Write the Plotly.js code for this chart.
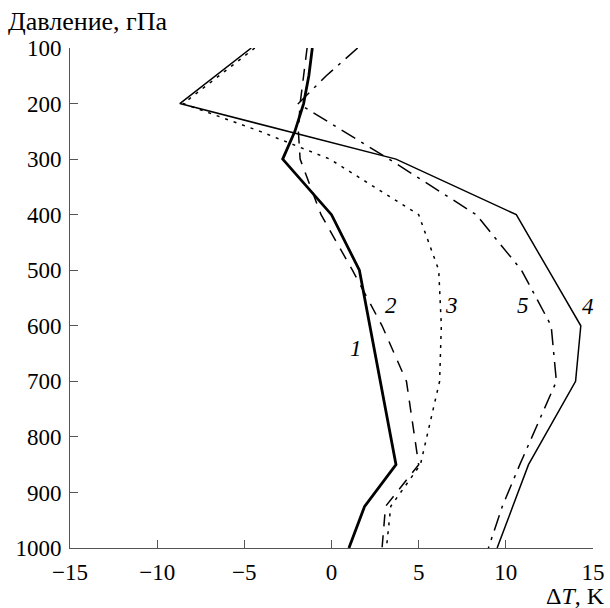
<!DOCTYPE html>
<html>
<head>
<meta charset="utf-8">
<script src="https://cdn.plot.ly/plotly-3.0.1.min.js"></script>
<style>html,body{margin:0;padding:0;background:#fff;}#chart{width:610px;height:608px;}</style>
</head>
<body>
<div id="chart"></div>
<script>
// Pressure levels (hPa) and temperature differences ΔT (K) for each curve
const p1 = [100, 150, 200, 250, 300, 400, 500, 700, 850, 925, 1000];
const t1 = [-1.1, -1.3, -1.6, -2.1, -2.8, 0.0, 1.6, 2.8, 3.7, 1.9, 1.0];

const p2 = [100, 200, 250, 300, 400, 500, 600, 700, 850, 925, 1000];
const t2 = [-1.4, -1.8, -1.9, -1.8, -0.6, 1.2, 2.9, 4.3, 5.0, 3.1, 2.9];

const p3 = [100, 200, 250, 300, 400, 500, 600, 700, 850, 925, 1000];
const t3 = [-4.4, -8.5, -4.1, -0.1, 5.0, 6.15, 6.3, 6.2, 5.1, 3.4, 3.15];

const p4 = [100, 200, 300, 400, 500, 600, 700, 850, 925, 1000];
const t4 = [-4.6, -8.7, 3.7, 10.6, 12.45, 14.3, 14.0, 11.3, 10.4, 9.5];

const p5 = [100, 150, 200, 300, 400, 500, 600, 700, 850, 925, 1000];
const t5 = [1.5, -0.3, -1.9, 3.3, 8.3, 10.9, 12.6, 12.9, 10.8, 9.8, 9.0];

const curveLabels = ["1", "2", "3", "4", "5"];
const labelX = [1.4, 3.4, 6.9, 14.7, 11.0];
const labelY = [640, 563, 563, 566, 563];

const xTicks = [-15, -10, -5, 0, 5, 10, 15];
const yTicks = [100, 200, 300, 400, 500, 600, 700, 800, 900, 1000];

const serif = "'Liberation Serif', 'Times New Roman', serif";

const traces = [
  {x: t1, y: p1, mode: "lines", line: {color: "#000", width: 2.8}},
  {x: t2, y: p2, mode: "lines", line: {color: "#000", width: 1.5, dash: "12px,9px"}},
  {x: t3, y: p3, mode: "lines", line: {color: "#000", width: 1.5, dash: "3px,6px"}},
  {x: t4, y: p4, mode: "lines", line: {color: "#000", width: 1.5}},
  {x: t5, y: p5, mode: "lines", line: {color: "#000", width: 1.5, dash: "16px,7px,3px,7px"}}
];

const annotations = curveLabels.map((s, i) => ({
  x: labelX[i], y: labelY[i], xref: "x", yref: "y", text: s, showarrow: false,
  font: {family: serif, size: 23, color: "#000", style: "italic"}
}));
annotations.push({
  x: 0, y: 1, xref: "paper", yref: "paper", xanchor: "left", yanchor: "bottom",
  text: "Давление, гПа", showarrow: false, xshift: -64, yshift: 10,
  font: {family: serif, size: 26, color: "#000"}
});
annotations.push({
  x: 1, y: 0, xref: "paper", yref: "paper", xanchor: "right", yanchor: "top",
  text: "Δ<i>T</i>, K", showarrow: false, xshift: 14, yshift: -33,
  font: {family: serif, size: 24, color: "#000"}
});

const layout = {
  width: 610, height: 608,
  margin: {l: 70, r: 17, t: 48, b: 60},
  paper_bgcolor: "#fff", plot_bgcolor: "#fff",
  showlegend: false,
  font: {family: serif, size: 22, color: "#000"},
  xaxis: {
    range: [-15, 15], tickvals: xTicks, ticks: "inside", ticklen: 8, tickcolor: "#555",
    showline: true, linecolor: "#555", linewidth: 1, showgrid: false, zeroline: false,
    ticklabelstandoff: 3,
    tickfont: {family: serif, size: 23, color: "#000"}
  },
  yaxis: {
    range: [1000, 100], tickvals: yTicks, ticks: "inside", ticklen: 8, tickcolor: "#555",
    showline: true, linecolor: "#555", linewidth: 1, showgrid: false, zeroline: false,
    ticklabelstandoff: 3,
    tickfont: {family: serif, size: 23, color: "#000"}
  },
  annotations: annotations
};

Plotly.newPlot("chart", traces, layout, {staticPlot: true});
</script>
</body>
</html>
